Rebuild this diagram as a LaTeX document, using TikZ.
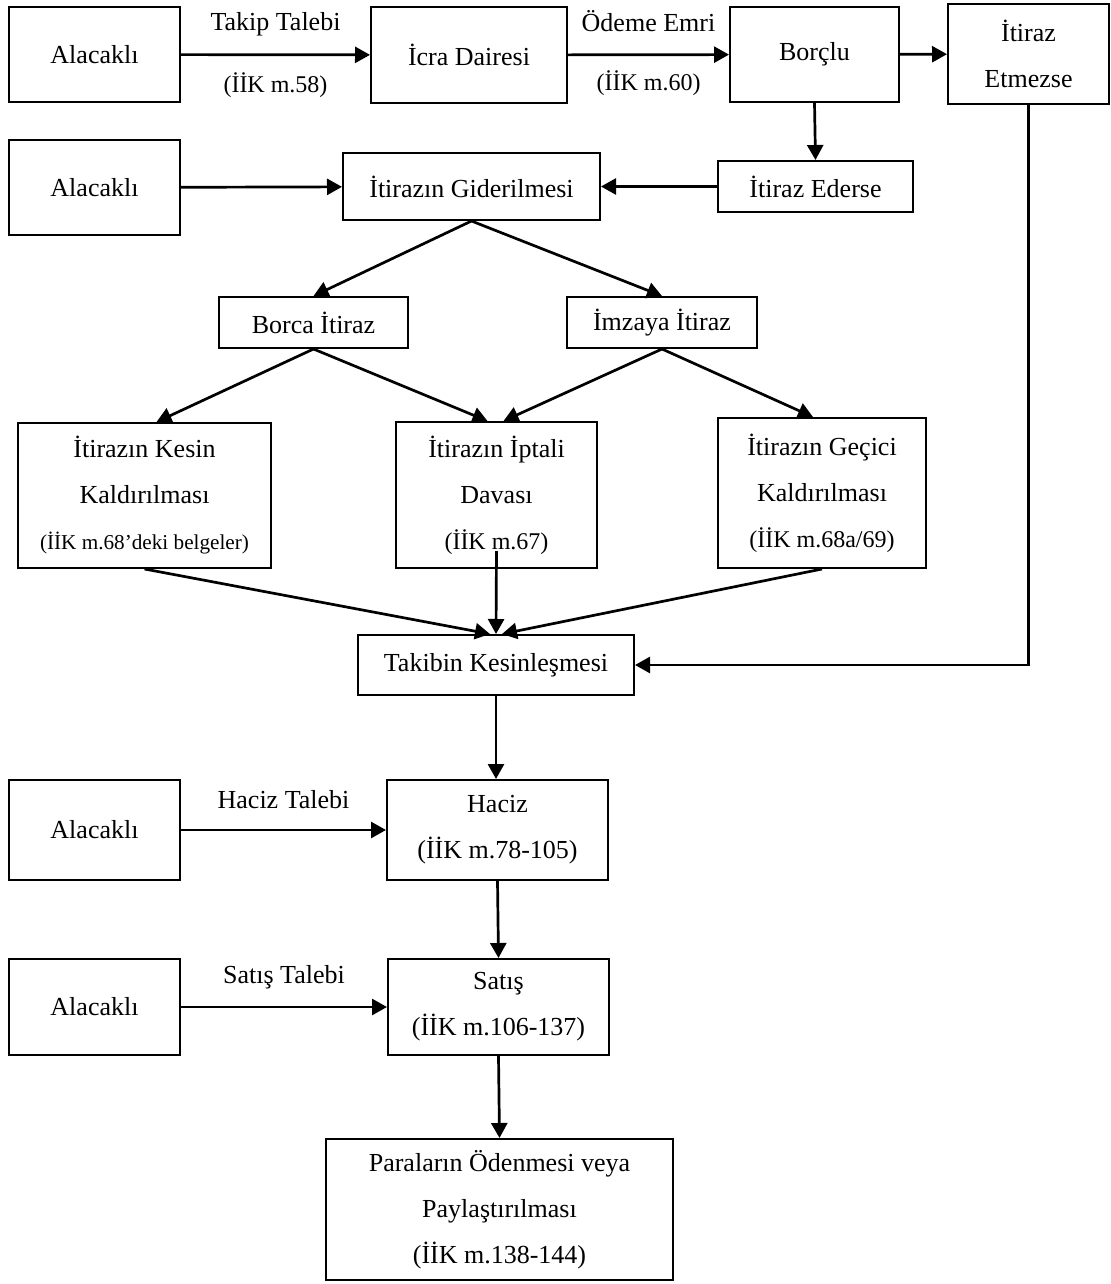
\documentclass[tikz,border=0pt]{standalone}
\usepackage{fontspec}
\setmainfont{Liberation Serif}
\usetikzlibrary{arrows.meta}
\newcommand\kucukyazi[1]{{\fontsize{12}{23}\selectfont #1}}
\begin{document}
\begin{tikzpicture}[x=0.5pt,y=-0.5pt,
kutu/.style={draw,line width=1pt,inner sep=1pt,align=center,font=\fontsize{13}{23}\selectfont},
ok/.style={-{Triangle[length=7.5pt,width=8pt]},line width=1.35pt},
etiket/.style={font=\fontsize{13}{16}\selectfont},
kucuk/.style={font=\fontsize{12}{16}\selectfont}]
\useasboundingbox (0,0) rectangle (1111,1284);
\node[kutu,minimum width=85.5pt,minimum height=47.5pt] (alc1) at (94.5,54.5) {Alacaklı};
\node[kutu,minimum width=98pt,minimum height=48pt] (icra) at (469,55) {İcra Dairesi};
\node[kutu,minimum width=84.5pt,minimum height=47.5pt] (borclu) at (814.5,54.5) {Borçlu};
\node[kutu,minimum width=80.5pt,minimum height=50pt] (etmez) at (1028.5,54) {İtiraz\\Etmezse};
\node[kutu,minimum width=85.5pt,minimum height=47.5pt] (alc2) at (94.5,187.5) {Alacaklı};
\node[kutu,minimum width=128.5pt,minimum height=33.5pt] (gider) at (471.5,186.5) {İtirazın Giderilmesi};
\node[kutu,minimum width=97.5pt,minimum height=25.5pt] (ederse) at (815.5,186.5) {İtiraz Ederse};
\node[kutu,minimum width=94.5pt,minimum height=25.5pt] (borca) at (313.5,322.5) {Borca İtiraz};
\node[kutu,minimum width=95pt,minimum height=25.5pt] (imza) at (662,322.5) {İmzaya İtiraz};
\node[kutu,minimum width=126.5pt,minimum height=72.5pt] (kesin) at (144.5,495.5) {İtirazın Kesin\\Kaldırılması\\{\fontsize{10.6}{23}\selectfont (İİK m.68’deki belgeler)}};
\node[kutu,minimum width=100.5pt,minimum height=73pt] (iptal) at (496.5,495) {İtirazın İptali\\Davası\\\kucukyazi{(İİK m.67)}};
\node[kutu,minimum width=104pt,minimum height=75pt] (gecici) at (822,493) {İtirazın Geçici\\Kaldırılması\\\kucukyazi{(İİK m.68a/69)}};
\node[kutu,minimum width=138pt,minimum height=30pt] (takip) at (496,665) {Takibin Kesinleşmesi};
\node[kutu,minimum width=85.5pt,minimum height=50pt] (alc3) at (94.5,830) {Alacaklı};
\node[kutu,minimum width=110.5pt,minimum height=50pt] (haciz) at (497.5,830) {Haciz\\(İİK m.78-105)};
\node[kutu,minimum width=85.5pt,minimum height=48pt] (alc4) at (94.5,1007) {Alacaklı};
\node[kutu,minimum width=110.5pt,minimum height=48pt] (satis) at (498.5,1007) {Satış\\(İİK m.106-137)};
\node[kutu,minimum width=173.5pt,minimum height=70.5pt] (paralar) at (499.5,1209.5) {Paraların Ödenmesi veya\\Paylaştırılması\\(İİK m.138-144)};
\draw[ok] (alc1) -- node[etiket,yshift=15pt] (takiptlb) {Takip Talebi} node[kucuk,yshift=-15pt] (takipmd) {(İİK m.58)} (icra);
\draw[ok] (icra) -- node[etiket,yshift=17pt] (odeme) {Ödeme Emri} node[kucuk,yshift=-14pt] (odememd) {(İİK m.60)} (borclu);
\draw[ok] (borclu) -- (etmez);
\draw[ok] (borclu.south) -- (ederse.north);
\draw[ok] (ederse) -- (gider);
\draw[ok] (alc2) -- (gider);
\draw[ok] (gider.south) -- (borca.north);
\draw[ok] (gider.south) -- (imza.north);
\draw[ok] (borca.south) -- ([xshift=6pt]kesin.north);
\draw[ok] (borca.south) -- ([xshift=-4.5pt]iptal.north);
\draw[ok] (imza.south) -- ([xshift=3.5pt]iptal.north);
\draw[ok] (imza.south) -- ([xshift=-4.5pt]gecici.north);
\draw[ok] (kesin.south) -- ([xshift=-3pt]takip.north);
\draw[ok] ([yshift=9pt]iptal.south) -- (takip.north);
\draw[ok] (gecici.south) -- ([xshift=3pt]takip.north);
\draw[ok] (etmez.south) |- (takip.east);
\draw[ok] (takip.south) -- (takip.south |- haciz.north);
\draw[ok] (alc3) -- node[etiket,yshift=15pt] (haciztlb) {Haciz Talebi} (haciz);
\draw[ok] (haciz.south) -- (satis.north);
\draw[ok] (alc4) -- node[etiket,yshift=15pt] (satistlb) {Satış Talebi} (satis);
\draw[ok] (satis.south) -- (paralar.north);
\end{tikzpicture}
\end{document}
